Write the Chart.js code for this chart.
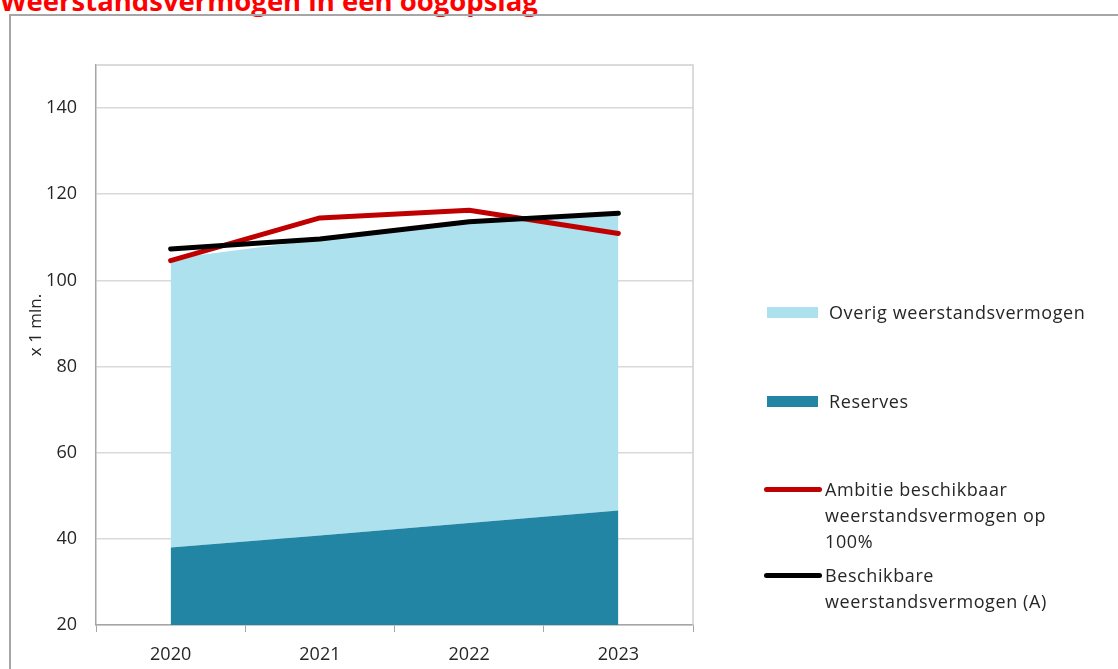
<!DOCTYPE html>
<html lang="nl">
<head>
<meta charset="utf-8">
<title>Weerstandsvermogen in een oogopslag</title>
<script src="https://cdn.jsdelivr.net/npm/chart.js@4/dist/chart.umd.min.js"></script>
<style>
  html, body { margin: 0; padding: 0; background: #fff; overflow: hidden; }
  body { width: 1118px; height: 669px; position: relative; font-family: "Open Sans", sans-serif; }
  #title { position: absolute; left: 0; top: -13px; font-size: 27.5px; line-height: 1; font-weight: bold; color: #ff0000; white-space: nowrap; }
  #frame { position: absolute; left: 9px; top: 14px; width: 1200px; height: 800px; border: 2px solid #a6a6a6; box-sizing: border-box; }
  #wrap { position: absolute; left: 0; top: 0; width: 1118px; height: 669px; }
  #yTitle { position: absolute; left: 34px; top: 325px; transform: translate(-50%, -50%) rotate(-90deg); font-size: 17px; color: #262626; white-space: nowrap; }
  #legend { position: absolute; left: 0; top: 0; width: 1118px; height: 669px; pointer-events: none; }
  .item { position: absolute; display: flex; align-items: flex-start; font-size: 18px; line-height: 26px; letter-spacing: 0.6px; color: #262626; }
  .swatch { display: inline-block; flex: 0 0 auto; }
</style>
</head>
<body>
<div id="title">Weerstandsvermogen in een oogopslag</div>
<div id="frame"></div>
<div id="wrap"><canvas id="chart" width="1118" height="669"></canvas></div>
<div id="yTitle">x 1 mln.</div>
<div id="legend"></div>
<script>
// jaren en waarden (x 1 mln.)
const years = ['2020', '2021', '2022', '2023'];
const reserves = [38.0, 40.8, 43.7, 46.6];
const overig = [67.0, 68.7, 69.8, 68.6];
const ambitie = [104.6, 114.5, 116.3, 110.9];
const beschikbaar = [107.3, 109.6, 113.6, 115.6];
const yTicks = [20, 40, 60, 80, 100, 120, 140];

const colors = {
  overig: '#ade1ee',
  reserves: '#2385a4',
  ambitie: '#c00000',
  beschikbaar: '#000000'
};

// rand rond het plotgebied (boven en rechts)
const plotBorder = {
  id: 'plotBorder',
  afterDraw(chart) {
    const { ctx, chartArea: a } = chart;
    ctx.save();
    ctx.strokeStyle = '#cfcfcf';
    ctx.lineWidth = 1.5;
    ctx.beginPath();
    ctx.moveTo(a.left, a.top);
    ctx.lineTo(a.right, a.top);
    ctx.lineTo(a.right, a.bottom);
    ctx.stroke();
    ctx.restore();
  }
};

const ctx = document.getElementById('chart').getContext('2d');
new Chart(ctx, {
  type: 'line',
  data: {
    labels: years,
    datasets: [
      {
        label: 'Reserves',
        data: reserves,
        stack: 'wv',
        order: 2,
        fill: 'start',
        backgroundColor: colors.reserves,
        borderWidth: 0,
        pointRadius: 0,
        tension: 0
      },
      {
        label: 'Overig weerstandsvermogen',
        data: overig,
        stack: 'wv',
        order: 2,
        fill: '-1',
        backgroundColor: colors.overig,
        borderWidth: 0,
        pointRadius: 0,
        tension: 0
      },
      {
        label: 'Ambitie beschikbaar weerstandsvermogen op 100%',
        data: ambitie,
        stack: 'ambitie',
        order: 1,
        fill: false,
        borderColor: colors.ambitie,
        borderWidth: 5,
        borderCapStyle: 'round',
        borderJoinStyle: 'round',
        pointRadius: 0,
        tension: 0
      },
      {
        label: 'Beschikbare weerstandsvermogen (A)',
        data: beschikbaar,
        stack: 'beschikbaar',
        order: 0,
        fill: false,
        borderColor: colors.beschikbaar,
        borderWidth: 5,
        borderCapStyle: 'round',
        borderJoinStyle: 'round',
        pointRadius: 0,
        tension: 0
      }
    ]
  },
  options: {
    responsive: false,
    animation: false,
    layout: { padding: { top: 65, right: 425, bottom: 0, left: 0 } },
    plugins: {
      legend: { display: false },
      tooltip: { enabled: false }
    },
    scales: {
      x: {
        offset: true,
        grid: { offset: true, drawOnChartArea: false, drawTicks: true, tickLength: 7, color: '#a6a6a6' },
        border: { color: '#a6a6a6', width: 1.5 },
        ticks: { color: '#262626', font: { family: 'Open Sans', size: 18 }, padding: 12, maxRotation: 0 },
        afterFit(scale) { scale.height = 44; }
      },
      y: {
        stacked: true,
        min: 20,
        max: 150,
        afterBuildTicks(scale) {
          scale.ticks = yTicks.map(v => ({ value: v }));
        },
        grid: { color: '#d9d9d9', lineWidth: 1.5, drawTicks: false },
        border: { color: '#a6a6a6', width: 1.5 },
        ticks: { color: '#262626', font: { family: 'Open Sans', size: 18 }, padding: 19 },
        afterFit(scale) { scale.width = 96; }
      }
    }
  },
  plugins: [plotBorder]
});

// legenda rechts van het plotgebied
const legendItems = [
  { text: 'Overig weerstandsvermogen', color: colors.overig, type: 'box', x: 767, y: 299, textWidth: 290 },
  { text: 'Reserves', color: colors.reserves, type: 'box', x: 767, y: 388, textWidth: 290 },
  { text: 'Ambitie beschikbaar weerstandsvermogen op 100%', color: colors.ambitie, type: 'line', x: 764, y: 476, textWidth: 240 },
  { text: 'Beschikbare weerstandsvermogen (A)', color: colors.beschikbaar, type: 'line', x: 764, y: 562, textWidth: 240 }
];

const legend = document.getElementById('legend');
legendItems.forEach(item => {
  const el = document.createElement('div');
  el.className = 'item';
  el.style.left = item.x + 'px';
  el.style.top = item.y + 'px';

  const sw = document.createElement('span');
  sw.className = 'swatch';
  sw.style.background = item.color;
  if (item.type === 'box') {
    sw.style.width = '51px';
    sw.style.height = '11px';
    sw.style.marginTop = '8px';
    sw.style.marginRight = '11px';
  } else {
    sw.style.width = '58px';
    sw.style.height = '5px';
    sw.style.borderRadius = '3px';
    sw.style.marginTop = '11px';
    sw.style.marginRight = '3px';
  }

  const label = document.createElement('span');
  label.textContent = item.text;
  label.style.width = item.textWidth + 'px';

  el.appendChild(sw);
  el.appendChild(label);
  legend.appendChild(el);
});
</script>
</body>
</html>
